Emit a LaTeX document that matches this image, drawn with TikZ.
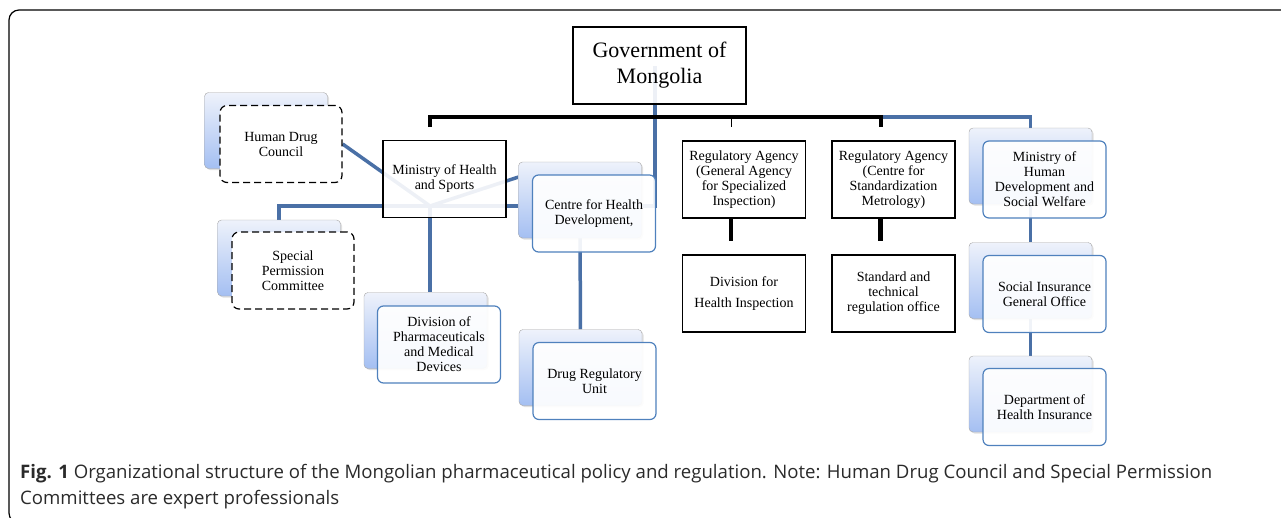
\documentclass[tikz,border=0pt]{standalone}
\usepackage{fontspec}
\setmainfont{Liberation Serif}
\newfontfamily\capfont{Open Sans}
\usetikzlibrary{shadows,backgrounds,calc}
\definecolor{linkblue}{HTML}{4A70A6}
\definecolor{boxblue}{HTML}{4F81BD}
\definecolor{backtop}{HTML}{EEF2FB}
\definecolor{backbot}{HTML}{A4BFF2}
\definecolor{capgray}{HTML}{2A2A2A}
\tikzset{
  backbox/.style={draw=gray!70, rounded corners=4pt, top color=backtop, bottom color=backbot,
    minimum width=123pt, minimum height=76pt,
    drop shadow={opacity=0.25, shadow xshift=1.5pt, shadow yshift=-1.5pt}},
  frontbox/.style={draw=boxblue, line width=1.2pt, rounded corners=6pt, fill=white, fill opacity=0.92,
    text opacity=1, minimum width=123pt, minimum height=77pt, align=center, font=\fontsize{14}{15}\selectfont},
  dashbox/.style={draw=black, line width=1.2pt, dash pattern=on 7pt off 4pt, rounded corners=7pt, fill=white,
    minimum width=122pt, minimum height=77pt, align=center, font=\fontsize{14}{15}\selectfont},
  plainbox/.style={draw=black, line width=1.2pt, fill=white, fill opacity=0.9, text opacity=1,
    minimum width=123pt, minimum height=77pt, align=center, font=\fontsize{14}{15}\selectfont},
  link/.style={draw=linkblue, line width=3.5pt},
  bar/.style={draw=black, line width=4pt}
}
\begin{document}
\begin{tikzpicture}[x=1pt, y=-1pt]
\useasboundingbox (0,0) rectangle (1281,517);
\draw[line width=1.2pt, rounded corners=10pt] (1300,10) -- (9,10) -- (9,523) -- (1300,523);

\node[plainbox, minimum width=173pt, font=\fontsize{22}{26}\selectfont] (gov) at (659.5,65.5) {Government of\\Mongolia};

\node[backbox] (hdcback) at (266,130.5) {};
\node[dashbox] (hdc) at (281,144) {Human Drug\\Council};
\node[backbox] (spcback) at (279,258) {};
\node[dashbox] (spc) at (293,270.5) {Special\\Permission\\Committee};

\node[plainbox] (moh) at (444.5,179) {Ministry of Health\\and Sports};

\node[backbox] (chdback) at (580,200) {};
\node[frontbox] (chd) at (594,213.5) {Centre for Health\\Development,};
\node[backbox] (dpmback) at (425.5,330.5) {};
\node[frontbox] (dpm) at (439,344.5) {Division of\\Pharmaceuticals\\and Medical\\Devices};
\node[backbox] (drugback) at (580.5,367.5) {};
\node[frontbox] (drug) at (594.5,381) {Drug Regulatory\\Unit};

\node[plainbox] (rag) at (744,179.5) {Regulatory Agency\\(General Agency\\for Specialized\\Inspection)};
\node[plainbox] (rac) at (893.5,179.5) {Regulatory Agency\\(Centre for\\Standardization\\Metrology)};
\node[plainbox] (divhi) at (744,293.5) {Division for\\[6pt]Health Inspection};
\node[plainbox] (sto) at (893.5,293.5) {Standard and\\technical\\regulation office};

\node[backbox] (mhdback) at (1030.5,166) {};
\node[frontbox] (mhd) at (1044.5,179.5) {Ministry of\\Human\\Development and\\Social Welfare};
\node[backbox] (sigoback) at (1030.5,280.5) {};
\node[frontbox] (sigo) at (1044.5,294) {Social Insurance\\General Office};
\node[backbox] (dephiback) at (1030.5,394) {};
\node[frontbox] (dephi) at (1044.5,407) {Department of\\Health Insurance};

\coordinate (hub) at (430,206);
\coordinate (govfoot) at (655,206);
\coordinate (barleft) at (430,117);
\coordinate (barright) at (881,117);
\coordinate (ragfoot) at ($(rag.south)+(-13,0)$);
\coordinate (racfoot) at ($(rac.south)+(-13,0)$);

\begin{scope}[on background layer]
\draw[link] (hub) -- (hdc.east);
\draw[link] (hub) -| (spcback.north);
\draw[link] (hub) -- (hub |- dpmback.north);
\draw[link] (hub) -- ($(chdback.north west)!0.2!(chdback.south west)$);
\draw[link] (hub) -- (govfoot) -- (govfoot |- gov.center);
\draw[link] (chdback) -- (drugback);
\draw[link] (barright) -- (barright -| mhdback.north) -- (mhdback.north);
\draw[link] (mhdback) -- (sigoback) -- (dephiback);
\end{scope}

\draw[bar] ($(barleft)+(0,10)$) -- (barleft) -- (barright) -- ($(barright)+(0,10)$);
\draw[black, line width=1pt] (731,117) -- (731,127);
\draw[bar, line width=4.5pt] (ragfoot) -- ($(ragfoot)+(0,22)$);
\draw[bar, line width=4.5pt] (racfoot) -- ($(racfoot)+(0,22)$);

\node[anchor=west, align=left, text=capgray, inner sep=0pt, font=\capfont\fontsize{18.6}{26}\selectfont] (caption) at (20,486.5)
  {\textbf{Fig. 1} Organizational structure of the Mongolian pharmaceutical policy and regulation. Note: Human Drug Council and Special Permission\\Committees are expert professionals};
\end{tikzpicture}
\end{document}
